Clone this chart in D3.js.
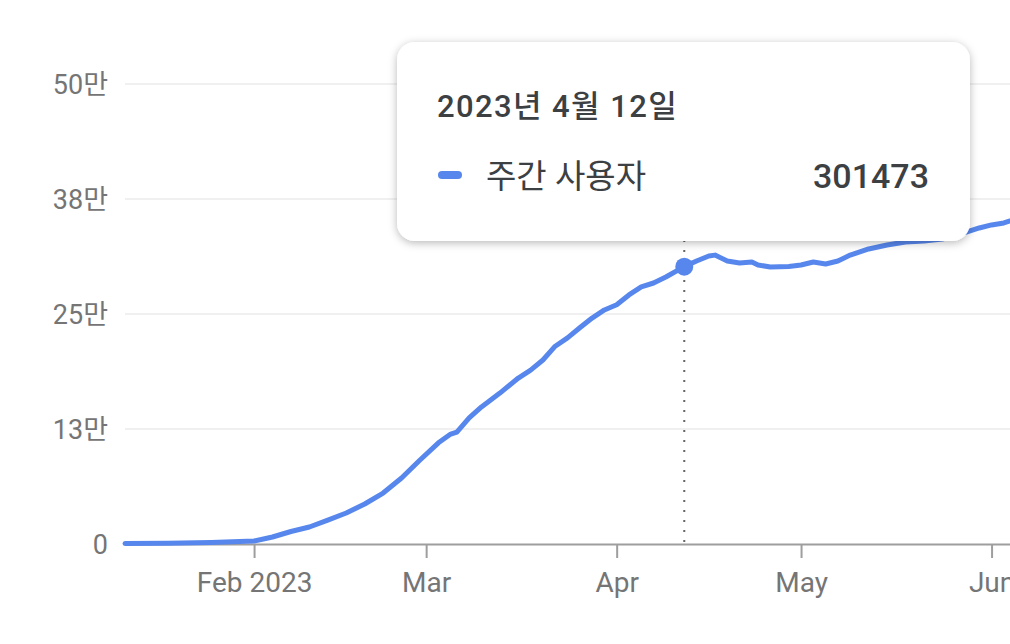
<!DOCTYPE html>
<html>
<head>
<meta charset="utf-8">
<script src="https://cdn.jsdelivr.net/npm/d3@7"></script>
<style>
  html, body { margin: 0; padding: 0; background: #fff; }
  svg { display: block; }
</style>
</head>
<body>
<div id="chart"></div>
<script>
// data (weekly users)
const dates = [
  "2023-01-11", "2023-01-18", "2023-01-25", "2023-02-01", "2023-02-04", "2023-02-07",
  "2023-02-10", "2023-02-13", "2023-02-16", "2023-02-19", "2023-02-22", "2023-02-25",
  "2023-02-28", "2023-03-03", "2023-03-05", "2023-03-06", "2023-03-08", "2023-03-10",
  "2023-03-13", "2023-03-16", "2023-03-18", "2023-03-20", "2023-03-22", "2023-03-24",
  "2023-03-26", "2023-03-28", "2023-03-30", "2023-04-01", "2023-04-03", "2023-04-05",
  "2023-04-07", "2023-04-09", "2023-04-12", "2023-04-14", "2023-04-16", "2023-04-17",
  "2023-04-19", "2023-04-21", "2023-04-23", "2023-04-24", "2023-04-26", "2023-04-29",
  "2023-05-01", "2023-05-03", "2023-05-05", "2023-05-07", "2023-05-09", "2023-05-12",
  "2023-05-15", "2023-05-18", "2023-05-21", "2023-05-24", "2023-05-27", "2023-05-30",
  "2023-06-01", "2023-06-03", "2023-06-04"
];
const weeklyUsers = [
  500, 800, 1600, 3300, 7600, 13600,
  18500, 26000, 33700, 43500, 55400, 71700,
  91300, 110000, 119500, 121700, 137000, 149000,
  164000, 180400, 189000, 200000, 215000, 224000,
  235000, 245600, 254400, 260000, 270700, 279400,
  283700, 290200, 301473, 307600, 313000, 314000,
  307600, 305400, 306500, 303300, 301000, 301600,
  303300, 306500, 304400, 307600, 314000, 320700,
  325000, 328300, 329400, 331500, 337000, 343500,
  346800, 349000, 351100
];
const yTicks = [0, 125000, 250000, 375000, 500000];
const seriesName = "주간 사용자";
const focusDate = "2023-04-12";

const W = 1010, H = 644;
const font = "Roboto, 'Noto Sans CJK KR', sans-serif";
const blue = "#5787ec";

const parse = d3.timeParse("%Y-%m-%d");
const data = dates.map((d, i) => ({ key: d, date: parse(d), value: weeklyUsers[i] }));

const svg = d3.select("#chart").append("svg")
  .attr("width", W).attr("height", H)
  .attr("font-family", font);

const x = d3.scaleTime()
  .domain([new Date(2023, 0, 11), new Date(2023, 5, 4)])
  .range([125, 1010]);
const y = d3.scaleLinear().domain([0, 500000]).range([544, 84]);

// gridlines
svg.append("g")
  .selectAll("line")
  .data(yTicks.filter(d => d > 0))
  .join("line")
  .attr("x1", 125).attr("x2", W)
  .attr("y1", d => y(d)).attr("y2", d => y(d))
  .attr("stroke", "#ebebeb").attr("stroke-width", 1.5);

// y labels
svg.append("g")
  .selectAll("text")
  .data(yTicks)
  .join("text")
  .attr("x", 108)
  .attr("y", d => y(d))
  .attr("dy", "0.36em")
  .attr("text-anchor", "end")
  .attr("font-size", 27)
  .attr("fill", "#757575")
  .text(d => d === 0 ? "0" : Math.round(d / 10000) + "만");

// x axis
const monthFmt = d3.timeFormat("%b");
const xAxis = d3.axisBottom(x)
  .ticks(d3.timeMonth.every(1))
  .tickSizeInner(14)
  .tickSizeOuter(0)
  .tickPadding(14)
  .tickFormat(d => d.getMonth() === 1 ? "Feb 2023" : monthFmt(d));

const gx = svg.append("g")
  .attr("transform", `translate(0,${y(0)})`)
  .call(xAxis);
gx.select(".domain").attr("stroke", "#9e9e9e").attr("stroke-width", 2);
gx.selectAll(".tick line").attr("stroke", "#9e9e9e").attr("stroke-width", 2);
gx.selectAll(".tick text")
  .attr("font-family", font)
  .attr("font-size", 28)
  .attr("fill", "#757575");

// line
const line = d3.line()
  .x(d => x(d.date))
  .y(d => y(d.value));

svg.append("path")
  .datum(data)
  .attr("d", line)
  .attr("fill", "none")
  .attr("stroke", blue)
  .attr("stroke-width", 5)
  .attr("stroke-linejoin", "round")
  .attr("stroke-linecap", "round");

// focus point + dotted guide
const focus = data.find(d => d.key === focusDate);
const fx = x(focus.date), fy = y(focus.value);

svg.append("line")
  .attr("x1", fx).attr("x2", fx)
  .attr("y1", 240).attr("y2", y(0))
  .attr("stroke", "#666")
  .attr("stroke-width", 2)
  .attr("stroke-dasharray", "2,8");

svg.append("circle")
  .attr("cx", fx).attr("cy", fy).attr("r", 9)
  .attr("fill", blue);

// tooltip
const defs = svg.append("defs");
const filt = defs.append("filter").attr("id", "shadow")
  .attr("x", "-10%").attr("y", "-10%").attr("width", "120%").attr("height", "130%");
filt.append("feDropShadow")
  .attr("dx", 0).attr("dy", 2).attr("stdDeviation", 4)
  .attr("flood-color", "#000").attr("flood-opacity", 0.28);

const tip = svg.append("g").attr("transform", "translate(397,42)");
tip.append("rect")
  .attr("width", 573).attr("height", 199)
  .attr("rx", 18)
  .attr("fill", "#fff")
  .attr("filter", "url(#shadow)");

const titleFmt = d3.timeFormat("%Y년 %-m월 %-d일");
tip.append("text")
  .attr("x", 40).attr("y", 75)
  .attr("font-size", 31)
  .attr("font-weight", 500)
  .attr("letter-spacing", 1.4)
  .attr("fill", "#3c4043")
  .text(titleFmt(focus.date));

tip.append("line")
  .attr("x1", 45).attr("x2", 61)
  .attr("y1", 133).attr("y2", 133)
  .attr("stroke", blue).attr("stroke-width", 8)
  .attr("stroke-linecap", "round");

tip.append("text")
  .attr("x", 89).attr("y", 146)
  .attr("font-size", 33)
  .attr("fill", "#3c4043")
  .text(seriesName);

tip.append("text")
  .attr("x", 532).attr("y", 146)
  .attr("text-anchor", "end")
  .attr("font-size", 34)
  .attr("font-weight", 500)
  .attr("fill", "#3c4043")
  .text(focus.value);
</script>
</body>
</html>
